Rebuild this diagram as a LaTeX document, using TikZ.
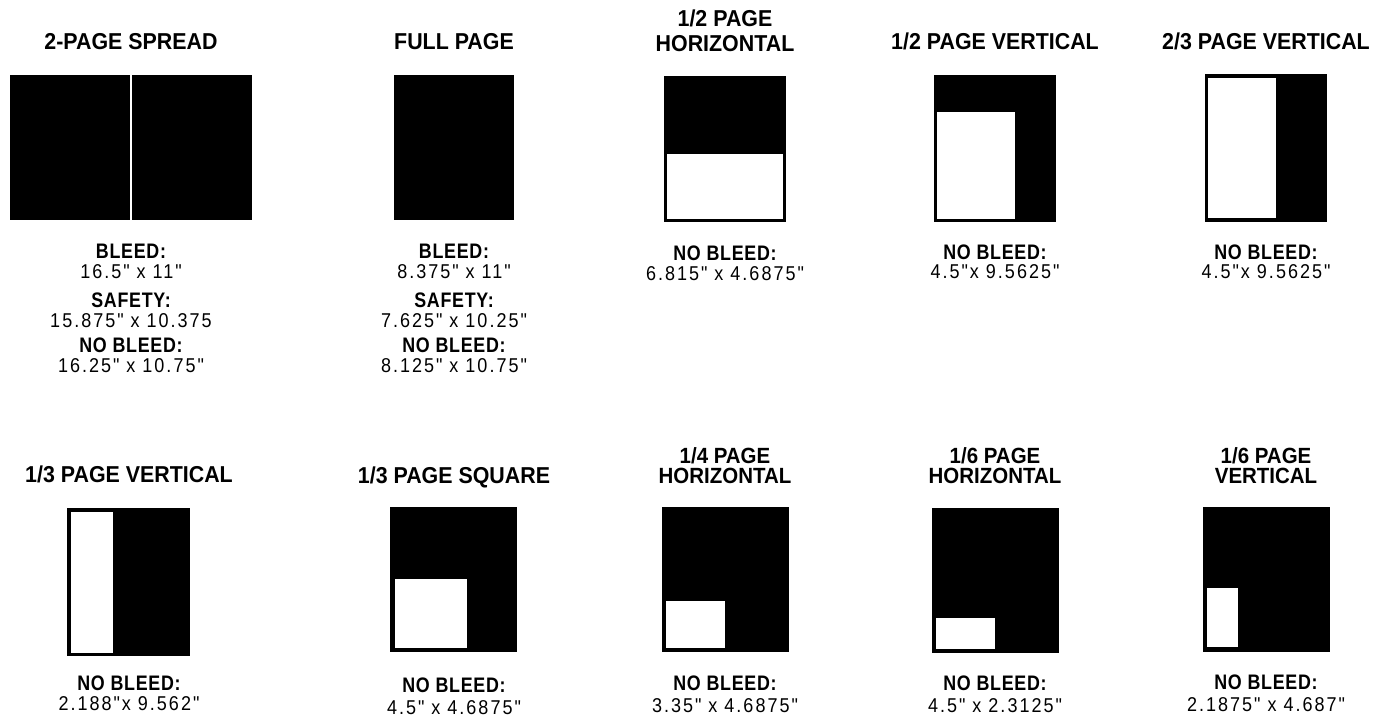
\documentclass[tikz,border=0pt]{standalone}
\usepackage{fontspec}
\setmainfont{Liberation Sans}
\newfontfamily\titlef{Liberation Sans}[FakeStretch=0.93]
\newfontfamily\labf{Liberation Sans}[FakeStretch=0.85,LetterSpace=3.5]
\newfontfamily\valf{Liberation Sans}[FakeStretch=0.9,LetterSpace=10]
\tikzset{
  ttl/.style={font=\titlef\bfseries\fontsize{23bp}{25bp}\selectfont, anchor=base, inner sep=0pt, align=center},
  ttltight/.style={ttl, font=\titlef\bfseries\fontsize{22bp}{20bp}\selectfont},
  lab/.style={font=\labf\bfseries\fontsize{21bp}{24bp}\selectfont, anchor=base, inner sep=0pt},
  val/.style={font=\valf\fontsize{20bp}{24bp}\selectfont, anchor=base, inner sep=0pt},
  blk/.style={fill=black},
  wht/.style={fill=white}
}
\begin{document}
\begin{tikzpicture}[x=1bp,y=-1bp]
\useasboundingbox[fill=white] (0,0) rectangle (1386,720);
% ---------- Row 1 ----------
% 2-page spread
\node[ttl] (t1) at (131,50) {2-PAGE SPREAD};
\fill[blk] (10,75) rectangle (130,220);
\fill[blk] (132,75) rectangle (252,220);
\node[lab] (l1a) at (131,258) {BLEED:};
\node[val] (v1a) at (131,278) {16.5" x 11"};
\node[lab] (l1b) at (131,307) {SAFETY:};
\node[val] (v1b) at (131,327) {15.875" x 10.375};
\node[lab] (l1c) at (131,352) {NO BLEED:};
\node[val] (v1c) at (131,372) {16.25" x 10.75"};
% full page
\node[ttl] (t2) at (454,50) {FULL PAGE};
\fill[blk] (394,75) rectangle (514,220);
\node[lab] (l2a) at (454,258) {BLEED:};
\node[val] (v2a) at (454,278) {8.375" x 11"};
\node[lab] (l2b) at (454,307) {SAFETY:};
\node[val] (v2b) at (454,327) {7.625" x 10.25"};
\node[lab] (l2c) at (454,352) {NO BLEED:};
\node[val] (v2c) at (454,372) {8.125" x 10.75"};
% 1/2 page horizontal
\node[ttl] (t3) at (725,52) {1/2 PAGE\\HORIZONTAL};
\fill[blk] (664,76) rectangle (786,222);
\fill[wht] (667,154) rectangle (783,219);
\node[lab] (l3) at (725,260) {NO BLEED:};
\node[val] (v3) at (725,280) {6.815" x 4.6875"};
% 1/2 page vertical
\node[ttl] (t4) at (995,50) {1/2 PAGE VERTICAL};
\fill[blk] (934,75) rectangle (1056,222);
\fill[wht] (937,112) rectangle (1015,219);
\node[lab] (l4) at (995,259) {NO BLEED:};
\node[val] (v4) at (995,278) {4.5"x 9.5625"};
% 2/3 page vertical
\node[ttl] (t5) at (1266,50) {2/3 PAGE VERTICAL};
\fill[blk] (1205,74) rectangle (1327,222);
\fill[wht] (1208,78) rectangle (1276,218);
\node[lab] (l5) at (1266,259) {NO BLEED:};
\node[val] (v5) at (1266,278) {4.5"x 9.5625"};
% ---------- Row 2 ----------
% 1/3 page vertical
\node[ttl] (t6) at (129,482) {1/3 PAGE VERTICAL};
\fill[blk] (67,508) rectangle (190,656);
\fill[wht] (71,512) rectangle (113,653);
\node[lab] (l6) at (129,690) {NO BLEED:};
\node[val] (v6) at (129,710) {2.188"x 9.562"};
% 1/3 page square
\node[ttl] (t7) at (454,483) {1/3 PAGE SQUARE};
\fill[blk] (390,507) rectangle (517,652);
\fill[wht] (395,579) rectangle (467,648);
\node[lab] (l7) at (454,692) {NO BLEED:};
\node[val] (v7) at (454,714) {4.5" x 4.6875"};
% 1/4 page horizontal
\node[ttltight] (t8) at (725,483) {1/4 PAGE\\HORIZONTAL};
\fill[blk] (662,507) rectangle (789,652);
\fill[wht] (666,601) rectangle (725,648);
\node[lab] (l8) at (725,690) {NO BLEED:};
\node[val] (v8) at (725,712) {3.35" x 4.6875"};
% 1/6 page horizontal
\node[ttltight] (t9) at (995,483) {1/6 PAGE\\HORIZONTAL};
\fill[blk] (932,508) rectangle (1059,653);
\fill[wht] (936,618) rectangle (995,649);
\node[lab] (l9) at (995,690) {NO BLEED:};
\node[val] (v9) at (995,712) {4.5" x 2.3125"};
% 1/6 page vertical
\node[ttltight] (t10) at (1266,483) {1/6 PAGE\\VERTICAL};
\fill[blk] (1203,507) rectangle (1330,652);
\fill[wht] (1207,588) rectangle (1238,647);
\node[lab] (l10) at (1266,689) {NO BLEED:};
\node[val] (v10) at (1266,711) {2.1875" x 4.687"};
\end{tikzpicture}
\end{document}
